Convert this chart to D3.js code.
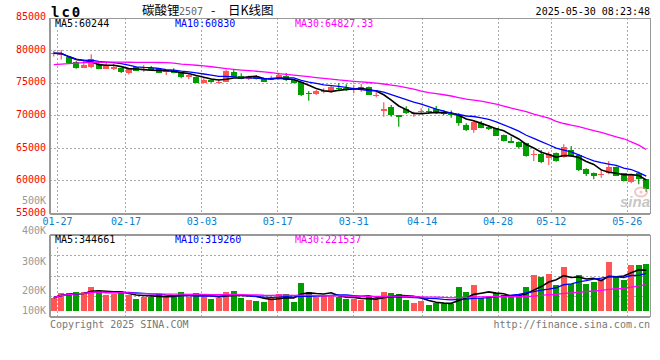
<!DOCTYPE html>
<html><head><meta charset="utf-8">
<script src="https://cdn.jsdelivr.net/npm/d3@7/dist/d3.min.js"></script>
<style>html,body{margin:0;padding:0;background:#fff;}svg{display:block;}</style>
</head><body>
<svg id="chart" width="660" height="360"></svg>
<script>
// ---------- data ----------
const dates = ["01-27",
 "02-05","02-06","02-07","02-10","02-11","02-12","02-13","02-14","02-17","02-18","02-19","02-20","02-21","02-24","02-25","02-26","02-27","02-28",
 "03-03","03-04","03-05","03-06","03-07","03-10","03-11","03-12","03-13","03-14","03-17","03-18","03-19","03-20","03-21","03-24","03-25","03-26","03-27","03-28","03-31",
 "04-01","04-02","04-03","04-07","04-08","04-09","04-10","04-11","04-14","04-15","04-16","04-17","04-18","04-21","04-22","04-23","04-24","04-25","04-28","04-29","04-30",
 "05-06","05-07","05-08","05-09","05-12","05-13","05-14","05-15","05-16","05-19","05-20","05-21","05-22","05-23","05-26","05-27","05-28","05-29","05-30"];
const tickLabels = ["01-27","02-17","03-03","03-17","03-31","04-14","04-28","05-12","05-26"];
const openP = [79530,79420,78960,78290,77370,77520,78010,77210,77240,77270,
 76510,77430,77090,77400,77120,76660,76860,76600,75890,75990,
 75070,75480,75170,75220,76660,76090,75590,76090,75790,75630,
 75630,76170,75480,75170,73490,73330,73720,73590,74250,74330,
 74020,74020,74360,73180,70770,71290,70110,71080,70290,70650,
 70750,70980,70620,70260,70190,68580,67810,68930,68220,68070,
 67040,66120,66000,65820,64050,64100,63560,64250,63710,64740,
 64050,61860,61240,60940,61140,62180,61170,59830,61140,60250];
const highP = [79970,80080,79080,78390,78550,79420,78090,78160,78010,77320,
 77170,77550,77780,77630,77170,76940,77270,76660,76510,76050,
 75740,75630,75630,77010,77010,76510,76140,76250,75860,76140,
 76600,76550,75560,75250,73790,73950,74210,74710,74970,74820,
 74710,74870,74480,73590,72060,71640,70110,71450,70620,71140,
 71140,71490,70880,70800,70370,68840,69190,69190,68580,68120,
 67120,66780,66050,65860,64740,64740,64480,64360,65630,65360,
 64130,61930,61290,61780,63050,62210,61210,60980,61410,60290];
const lowP = [79080,78650,78010,77210,77320,77270,77120,77170,77010,76550,
 76320,76860,76750,76910,76550,76250,76510,75740,75590,75020,
 75020,75070,74970,75170,75940,75590,75480,75560,75170,75480,
 75560,75330,74970,73030,72300,73180,73440,73530,73950,73790,
 73440,73680,73180,72830,69850,69850,68320,70260,69850,70370,
 70260,70260,70110,69700,68470,67660,67400,68070,67810,66890,
 66050,65820,65000,63710,63050,62700,62440,62950,63560,63710,
 61520,60750,60250,60490,61010,60750,59910,59630,59480,58300];
const closeP = [79590,79510,78120,77400,77830,78650,77210,77630,77440,76750,
 77120,76910,77170,77010,76600,76860,76600,75990,76320,75070,
 75560,75220,75250,76910,75990,75710,75970,75660,75220,75710,
 76250,75480,75100,73180,73330,73790,73790,74450,74140,73950,
 74210,74360,73260,73260,70980,70160,69850,70460,70390,70750,
 70650,70370,70260,70140,68960,67780,69080,68190,68120,66920,
 66120,65860,65160,63900,64160,62930,64100,63080,65200,63900,
 61670,61060,60800,61030,62130,60800,59990,60910,60320,58760];
// 30-day average as drawn (includes days before the window)
const ma30P = [77860,77930,78010,78090,78150,78190,78210,78210,78220,78220,
 78210,78200,78190,78190,78170,78150,78090,77930,77840,77750,
 77660,77520,77380,77240,77120,77010,76920,76830,76720,76610,
 76480,76350,76230,76110,75990,75860,75740,75620,75490,75390,
 75280,75190,75100,75000,74870,74710,74560,74330,74100,73790,
 73560,73410,73220,73030,72790,72560,72410,72230,72030,71800,
 71490,71180,70910,70650,70260,69930,69650,69140,68810,68550,
 68320,68010,67730,67440,67090,66770,66470,66000,65490,64830];
const volume = [113000,149000,154000,163000,163000,203000,169000,135000,141000,163000,
 135000,102000,116000,121000,144000,116000,121000,158000,116000,149000,
 121000,102000,107000,161000,169000,113000,93000,85000,76000,116000,
 144000,144000,76000,239000,161000,116000,127000,127000,116000,99000,
 99000,93000,116000,93000,161000,152000,144000,93000,71000,85000,
 51000,71000,56000,61000,203000,161000,220000,107000,116000,149000,
 135000,121000,121000,200000,304000,285000,312000,220000,371000,228000,
 304000,228000,247000,271000,414000,285000,262000,386000,390000,395000];
const priceTicks = [55000,60000,65000,70000,75000,80000,85000];
const volTicks = [100000,200000,300000,400000,500000];
const volTickText = ["100K","200K","300K","400K","500K"];
const priceMALabels = ["MA5:60244","MA10:60830","MA30:64827.33"];
const volMALabels = ["MA5:344661","MA10:319260","MA30:221537"];
const symbol = "lc0";
const titleParts = ["碳酸锂","2507","-","日K线图"];
const stamp = "2025-05-30 08:23:48";
const footLeft = "Copyright 2025 SINA.COM";
const footRight = "http://finance.sina.com.cn";

// ---------- helpers ----------
function movAvg(arr, n){
  return arr.map((_, i) => d3.mean(arr.slice(Math.max(0, i - n + 1), i + 1)));
}
const ma5P = movAvg(closeP, 5), ma10P = movAvg(closeP, 10);
const vma5 = movAvg(volume, 5), vma10 = movAvg(volume, 10), vma30 = movAvg(volume, 30);

const svg = d3.select("#chart");
const mono = "'DejaVu Sans Mono', monospace";
const RED = "#ff5555", GREEN = "#009c00", MAC = ["#000000", "#0000ff", "#ff00ff"];
const N = dates.length;
const P = {l: 50, r: 650, t: 18, b: 213.5};
const V = {t: 235, b: 317, base: 311};

const x = d3.scaleBand().domain(d3.range(N)).range([P.l, P.r]);
const cx = i => x(i) + x.bandwidth() / 2;
const gridX = d3.scaleLinear().domain([-1, N - 2]).range([P.l, P.r]);
const y = d3.scaleLinear().domain([55000, 85000]).range([P.b, P.t]);
const vy = d3.scaleLinear().domain([0, 640000]).range([V.base, 235.2]);
const volLabelY = d3.scaleLinear().domain(volTicks).range([310, 290.3, 261.7, 230.7, 200.7]);

svg.append("rect").attr("width", 660).attr("height", 360).attr("fill", "#fff");

// ---------- grid ----------
const grid = svg.append("g").attr("stroke", "#aaaaaa").attr("stroke-dasharray", "2,2")
  .attr("shape-rendering", "crispEdges");
grid.selectAll(".hg").data(priceTicks.filter(v => v > 55000 && v < 85000)).join("line")
  .attr("x1", P.l).attr("x2", P.r).attr("y1", d => y(d)).attr("y2", d => y(d));
grid.selectAll(".vg").data([0.25, 0.5, 0.75]).join("line")
  .attr("x1", P.l).attr("x2", P.r)
  .attr("y1", f => V.t + f * (V.b - V.t)).attr("y2", f => V.t + f * (V.b - V.t));
tickLabels.forEach(t => {
  const gx = gridX(dates.indexOf(t));
  grid.append("line").attr("x1", gx).attr("x2", gx).attr("y1", P.t).attr("y2", P.b);
  grid.append("line").attr("x1", gx).attr("x2", gx).attr("y1", V.t).attr("y2", V.b);
});

// ---------- candles ----------
const cg = svg.append("g");
d3.range(N).forEach(i => {
  const up = closeP[i] >= openP[i];
  const col = up ? RED : GREEN;
  const c = cx(i);
  cg.append("line").attr("x1", c).attr("x2", c)
    .attr("y1", y(highP[i])).attr("y2", y(lowP[i]))
    .attr("stroke", col).attr("stroke-width", 1.2);
  const top = y(Math.max(openP[i], closeP[i])), bot = y(Math.min(openP[i], closeP[i]));
  cg.append("rect").attr("x", c - 3).attr("width", 6)
    .attr("y", top).attr("height", Math.max(1.2, bot - top))
    .attr("fill", col).attr("shape-rendering", "crispEdges");
});

// ---------- volume bars ----------
const vg = svg.append("g").attr("shape-rendering", "crispEdges");
vg.selectAll("rect").data(volume).join("rect")
  .attr("x", (d, i) => cx(i) - 3).attr("width", 6)
  .attr("y", d => vy(d)).attr("height", d => V.base - vy(d))
  .attr("fill", (d, i) => closeP[i] >= openP[i] ? RED : GREEN);

// ---------- MA lines ----------
const lineP = d3.line().x((d, i) => cx(i)).y(d => y(d));
const lineV = d3.line().x((d, i) => cx(i)).y(d => vy(d));
[ma5P, ma10P, ma30P].forEach((s, k) => {
  svg.append("path").attr("d", lineP(s)).attr("fill", "none")
    .attr("stroke", MAC[k]).attr("stroke-width", k === 0 ? 1.6 : 1.3);
});
[vma5, vma10, vma30].forEach((s, k) => {
  svg.append("path").attr("d", lineV(s)).attr("fill", "none")
    .attr("stroke", MAC[k]).attr("stroke-width", k === 0 ? 1.6 : 1.3);
});

// ---------- frames ----------
const fr = svg.append("g").attr("stroke", "#999").attr("shape-rendering", "crispEdges");
[[P.l, P.t, P.r, P.t, 1], [P.r, P.t, P.r, P.b, 1], [P.l, P.t, P.l, P.b, 2], [P.l, P.b, P.r, P.b, 2],
 [P.l, V.t, P.r, V.t, 1.5], [P.r, V.t, P.r, V.b, 1], [P.l, V.t, P.l, V.b, 2], [P.l, V.b, P.r, V.b, 1.5]]
 .forEach(a => fr.append("line").attr("x1", a[0]).attr("y1", a[1]).attr("x2", a[2]).attr("y2", a[3]).attr("stroke-width", a[4]));

// ---------- axis labels ----------
svg.selectAll(".pl").data(priceTicks).join("text")
  .attr("x", 46).attr("y", d => y(d) + 2.2).attr("text-anchor", "end")
  .attr("font-family", mono).attr("font-size", 10).attr("fill", "#ff0000").text(d => d);
svg.selectAll(".vl").data(volTicks).join("text")
  .attr("x", 46).attr("y", d => volLabelY(d) + 3.6).attr("text-anchor", "end")
  .attr("font-family", mono).attr("font-size", 10).attr("fill", "#999")
  .text((d, i) => volTickText[i]);
svg.selectAll(".xl").data(tickLabels).join("text")
  .attr("x", d => gridX(dates.indexOf(d))).attr("y", 225).attr("text-anchor", "middle")
  .attr("font-family", mono).attr("font-size", 10).attr("fill", "#0a80d0").text(d => d);

// ---------- MA legends ----------
function legend(labels, yb) {
  const xs = [55, 175, 295];
  labels.forEach((t, k) => {
    const g = svg.append("g");
    const bg = g.append("rect").attr("fill", "#fff");
    const tx = g.append("text").attr("x", xs[k]).attr("y", yb)
      .attr("font-family", mono).attr("font-size", 10).attr("fill", MAC[k]).text(t);
    const bb = tx.node().getBBox();
    bg.attr("x", bb.x - 1).attr("y", bb.y + 2).attr("width", bb.width + 2).attr("height", bb.height - 2);
  });
}
legend(priceMALabels, 27);
legend(volMALabels, 243);

// ---------- header / footer ----------
svg.append("text").attr("x", 51).attr("y", 16.5).attr("font-family", mono)
  .attr("font-weight", "bold").attr("font-size", 14).attr("letter-spacing", 2)
  .attr("fill", "#000").text(symbol);
const cjk = "'Noto Sans CJK SC', sans-serif";
svg.append("text").attr("x", 142).attr("y", 15).attr("font-family", cjk)
  .attr("font-size", 12.5).attr("fill", "#000").text(titleParts[0]);
svg.append("text").attr("x", 179).attr("y", 15).attr("font-family", mono)
  .attr("font-size", 10).attr("fill", "#666").text(titleParts[1]);
svg.append("text").attr("x", 211).attr("y", 15).attr("font-family", cjk)
  .attr("font-size", 12.5).attr("fill", "#000").text(titleParts[2]);
svg.append("text").attr("x", 228).attr("y", 15).attr("font-family", cjk)
  .attr("font-size", 12.5).attr("fill", "#000").text(titleParts[3]);
svg.append("text").attr("x", 650).attr("y", 15).attr("text-anchor", "end")
  .attr("font-family", mono).attr("font-size", 10).attr("fill", "#000").text(stamp);
svg.append("text").attr("x", 50).attr("y", 327.5).attr("font-family", mono)
  .attr("font-size", 10).attr("fill", "#777").text(footLeft);
svg.append("text").attr("x", 650).attr("y", 327.5).attr("text-anchor", "end").attr("font-family", mono)
  .attr("font-size", 10).attr("fill", "#777").text(footRight);

// watermark
const wm = svg.append("g").attr("opacity", 0.55);
wm.append("ellipse").attr("cx", 641).attr("cy", 192).attr("rx", 6).attr("ry", 4.5)
  .attr("fill", "none").attr("stroke", "#e89a9a").attr("stroke-width", 2);
wm.append("circle").attr("cx", 641).attr("cy", 192).attr("r", 1.6).attr("fill", "#e89a9a");
wm.append("text").attr("x", 620).attr("y", 207).attr("font-family", "'Liberation Sans', sans-serif")
  .attr("font-style", "italic").attr("font-weight", "bold").attr("font-size", 15).attr("fill", "#999").text("sina");
</script>
</body></html>
